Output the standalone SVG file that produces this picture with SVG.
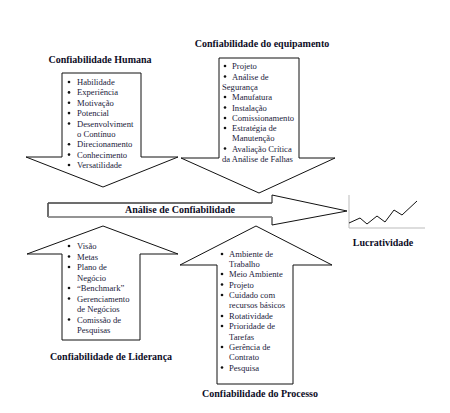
<svg xmlns="http://www.w3.org/2000/svg" width="450" height="413" viewBox="0 0 450 413">
<style>
.arrow{fill:#fff;stroke:#111;stroke-width:1}
.title{font-family:"Liberation Serif",serif;font-weight:bold;font-size:10px;fill:#0d0d26;text-anchor:middle}
.item{font-family:"Liberation Serif",serif;font-size:8.6px;fill:#1a1a3a}
.bul{fill:#111}
.axis{fill:none;stroke:#bbb;stroke-width:1}
.line{fill:none;stroke:#111;stroke-width:1}
</style>
<rect width="450" height="413" fill="#fff"/>
<g id="connectors">
<g id="analise">
<polygon class="arrow" points="48,203 272,203 272,195 347,211 272,225 272,217 48,217"/>
<polyline points="48,217 48,203 272,203" fill="none" stroke="#555" stroke-width="1"/>
<polyline points="48,217 272,217" fill="none" stroke="#999" stroke-width="1.5"/>
<text class="title" x="180" y="213">Análise de Confiabilidade</text>
</g>
</g>
<g id="humana">
<text class="title" x="100" y="63">Confiabilidade Humana</text>
<polygon class="arrow" points="62,73 141,73 141,157 178,157 103,187 26,157 62,157"/>
<g class="bul">
<circle cx="69" cy="82" r="1.3"/><circle cx="69" cy="92.4" r="1.3"/><circle cx="69" cy="102.8" r="1.3"/><circle cx="69" cy="113.1" r="1.3"/><circle cx="69" cy="123.5" r="1.3"/><circle cx="69" cy="144.3" r="1.3"/><circle cx="69" cy="154.6" r="1.3"/><circle cx="69" cy="165" r="1.3"/>
</g>
<text class="item" x="77" y="85">Habilidade</text>
<text class="item" x="77" y="95.4">Experiência</text>
<text class="item" x="77" y="105.8">Motivação</text>
<text class="item" x="77" y="116.1">Potencial</text>
<text class="item" x="77" y="126.5">Desenvolviment</text>
<text class="item" x="77" y="136.9">o Contínuo</text>
<text class="item" x="77" y="147.3">Direcionamento</text>
<text class="item" x="77" y="157.6">Conhecimento</text>
<text class="item" x="77" y="168">Versatilidade</text>
</g>
<g id="equipamento">
<text class="title" x="262" y="47">Confiabilidade do equipamento</text>
<polygon class="arrow" points="219,58 299,58 299,158 335,158 259,193 181,158 219,158"/>
<g class="bul">
<circle cx="225" cy="66" r="1.3"/><circle cx="225" cy="76.5" r="1.3"/><circle cx="225" cy="97" r="1.3"/><circle cx="225" cy="107.5" r="1.3"/><circle cx="225" cy="118" r="1.3"/><circle cx="225" cy="128" r="1.3"/><circle cx="225" cy="148.5" r="1.3"/>
</g>
<text class="item" x="232" y="69">Projeto</text>
<text class="item" x="232" y="79.5">Análise de</text>
<text class="item" x="222" y="89.8">Segurança</text>
<text class="item" x="232" y="100">Manufatura</text>
<text class="item" x="232" y="110.5">Instalação</text>
<text class="item" x="232" y="121">Comissionamento</text>
<text class="item" x="232" y="131">Estratégia de</text>
<text class="item" x="232" y="141">Manutenção</text>
<text class="item" x="232" y="151.5">Avaliação Crítica</text>
<text class="item" x="222" y="162">da Análise de Falhas</text>
</g>
<g id="lideranca">
<polygon class="arrow" points="103,226 178,254 140,254 140,340 62,340 62,254 27,254"/>
<g class="bul">
<circle cx="69" cy="246" r="1.3"/><circle cx="69" cy="256.5" r="1.3"/><circle cx="69" cy="267" r="1.3"/><circle cx="69" cy="288" r="1.3"/><circle cx="69" cy="298.5" r="1.3"/><circle cx="69" cy="319.5" r="1.3"/>
</g>
<text class="item" x="77" y="249">Visão</text>
<text class="item" x="77" y="259.5">Metas</text>
<text class="item" x="77" y="270">Plano de</text>
<text class="item" x="77" y="280.5">Negócio</text>
<text class="item" x="77" y="291">“Benchmark”</text>
<text class="item" x="77" y="301.5">Gerenciamento</text>
<text class="item" x="77" y="312">de Negócios</text>
<text class="item" x="77" y="322.5">Comissão de</text>
<text class="item" x="77" y="333">Pesquisas</text>
<text class="title" x="111" y="360">Confiabilidade de Liderança</text>
</g>
<g id="processo">
<polygon class="arrow" points="256,226 332,265 293,265 293,384 217,384 217,265 180,265"/>
<g class="bul">
<circle cx="222" cy="254" r="1.3"/><circle cx="222" cy="274" r="1.3"/><circle cx="222" cy="284.5" r="1.3"/><circle cx="222" cy="295" r="1.3"/><circle cx="222" cy="316" r="1.3"/><circle cx="222" cy="326" r="1.3"/><circle cx="222" cy="347" r="1.3"/><circle cx="222" cy="367.5" r="1.3"/>
</g>
<text class="item" x="229" y="257">Ambiente de</text>
<text class="item" x="229" y="267">Trabalho</text>
<text class="item" x="229" y="277">Meio Ambiente</text>
<text class="item" x="229" y="287.5">Projeto</text>
<text class="item" x="229" y="298">Cuidado com</text>
<text class="item" x="229" y="308">recursos básicos</text>
<text class="item" x="229" y="319">Rotatividade</text>
<text class="item" x="229" y="329">Prioridade de</text>
<text class="item" x="229" y="339.5">Tarefas</text>
<text class="item" x="229" y="350">Gerência de</text>
<text class="item" x="229" y="360">Contrato</text>
<text class="item" x="229" y="370.5">Pesquisa</text>
<text class="title" x="260" y="397">Confiabilidade do Processo</text>
</g>
<g id="lucratividade">
<polyline class="axis" points="349,195 349,228 425,228"/>
<polyline class="line" points="349,223 360,218 367,224 377,216 385,222 394,210 402,215 417,201"/>
<text class="title" x="383" y="246">Lucratividade</text>
</g>
</svg>
